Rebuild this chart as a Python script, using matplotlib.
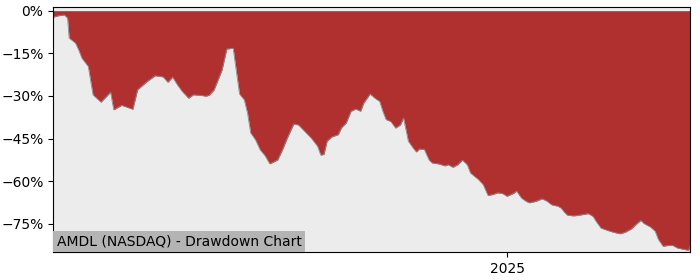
import pandas as pd
import matplotlib
matplotlib.use("Agg")
import matplotlib.pyplot as plt
import matplotlib.dates as mdates
from matplotlib.offsetbox import AnchoredText

# drawdown values (percent from the running peak)
dates = [
    "2024-03-22", "2024-03-25", "2024-03-29", "2024-03-31", "2024-04-01", "2024-04-05",
    "2024-04-07", "2024-04-09", "2024-04-13", "2024-04-16", "2024-04-21", "2024-04-27",
    "2024-04-29", "2024-05-04", "2024-05-11", "2024-05-14", "2024-05-20", "2024-05-25",
    "2024-05-30", "2024-06-02", "2024-06-05", "2024-06-08", "2024-06-11", "2024-06-15",
    "2024-06-18", "2024-06-24", "2024-06-26", "2024-06-28", "2024-07-01", "2024-07-06",
    "2024-07-09", "2024-07-13", "2024-07-17", "2024-07-20", "2024-07-22", "2024-07-24",
    "2024-07-27", "2024-07-30", "2024-08-02", "2024-08-05", "2024-08-10", "2024-08-13",
    "2024-08-16", "2024-08-20", "2024-08-23", "2024-08-27", "2024-08-31", "2024-09-04",
    "2024-09-06", "2024-09-08", "2024-09-10", "2024-09-13", "2024-09-17", "2024-09-19",
    "2024-09-22", "2024-09-25", "2024-09-28", "2024-10-01", "2024-10-03", "2024-10-07",
    "2024-10-10", "2024-10-13", "2024-10-15", "2024-10-17", "2024-10-20", "2024-10-23",
    "2024-10-26", "2024-10-28", "2024-10-31", "2024-11-03", "2024-11-05", "2024-11-07",
    "2024-11-10", "2024-11-13", "2024-11-15", "2024-11-19", "2024-11-23", "2024-11-25",
    "2024-11-28", "2024-12-01", "2024-12-04", "2024-12-07", "2024-12-09", "2024-12-14",
    "2024-12-17", "2024-12-20", "2024-12-23", "2024-12-26", "2024-12-29", "2025-01-01",
    "2025-01-05", "2025-01-07", "2025-01-10", "2025-01-13", "2025-01-15", "2025-01-19",
    "2025-01-23", "2025-01-26", "2025-01-29", "2025-02-02", "2025-02-04", "2025-02-06",
    "2025-02-08", "2025-02-12", "2025-02-17", "2025-02-21", "2025-02-24", "2025-02-26",
    "2025-03-01", "2025-03-05", "2025-03-09", "2025-03-13", "2025-03-16", "2025-03-20",
    "2025-03-23", "2025-03-26", "2025-03-28", "2025-04-01", "2025-04-04", "2025-04-06",
    "2025-04-09", "2025-04-12", "2025-04-15", "2025-04-18", "2025-04-23", "2025-04-25",
    "2025-04-26",
]
drawdown = [
    -2.3, -1.8, -1.5, -2.6, -9.6, -11.4,
    -13.8, -16.7, -19.6, -29.6, -32.2, -28.7,
    -34.9, -33.3, -34.7, -27.8, -24.9, -22.9,
    -23.3, -25.2, -23.4, -26.1, -28.4, -30.8,
    -29.6, -29.9, -30.1, -29.7, -27.9, -20.9,
    -13.5, -13.2, -29.3, -31.4, -36.0, -43.0,
    -45.4, -49.0, -51.0, -53.9, -52.5, -48.9,
    -44.8, -39.9, -40.2, -42.5, -44.8, -47.7,
    -50.8, -50.6, -45.9, -44.4, -43.6, -41.2,
    -39.5, -35.4, -34.6, -35.4, -32.5, -29.3,
    -30.8, -31.9, -35.4, -38.3, -39.0, -41.3,
    -40.2, -37.8, -45.9, -48.3, -49.7, -48.7,
    -48.8, -52.5, -53.6, -53.9, -54.6, -54.2,
    -55.1, -54.2, -52.6, -54.2, -57.1, -59.4,
    -61.2, -65.0, -64.7, -64.1, -64.3, -65.3,
    -64.3, -63.5, -65.9, -67.1, -67.6, -67.1,
    -66.2, -67.0, -68.3, -68.8, -69.5, -70.9,
    -72.0, -72.2, -71.8, -71.4, -72.4, -74.2,
    -76.5, -77.3, -78.0, -78.5, -78.0, -76.8,
    -75.2, -73.8, -74.9, -76.1, -77.6, -80.5,
    -82.9, -82.6, -82.6, -83.5, -84.1, -84.3,
    -82.9,
]
yticks = [0, -15, -30, -45, -60, -75]

dates = pd.to_datetime(dates)

fig = plt.figure(figsize=(7, 2.8), dpi=100)
ax = fig.add_axes([0.076, 0.099, 0.91, 0.875])
ax.set_facecolor("#ececec")

ax.fill_between(dates, drawdown, 0, color="#b03030", linewidth=0)
ax.plot(dates, drawdown, color="#8a8a8a", linewidth=0.6)

ax.set_xlim(dates[0], dates[-1])
ax.set_ylim(-85, 1.2)
ax.set_yticks(yticks)
ax.yaxis.set_major_formatter(plt.FuncFormatter(lambda v, p: "{:.0f}%".format(v).replace("-", "\u2212")))
ax.xaxis.set_major_locator(mdates.YearLocator())
ax.xaxis.set_major_formatter(mdates.DateFormatter("%Y"))

label = AnchoredText("AMDL (NASDAQ) - Drawdown Chart", loc="lower left",
                     prop=dict(size=10), frameon=True, pad=0.25, borderpad=0)
label.patch.set_facecolor("#b4b4b4")
label.patch.set_edgecolor("none")
ax.add_artist(label)

fig.savefig("out.png", dpi=100)
